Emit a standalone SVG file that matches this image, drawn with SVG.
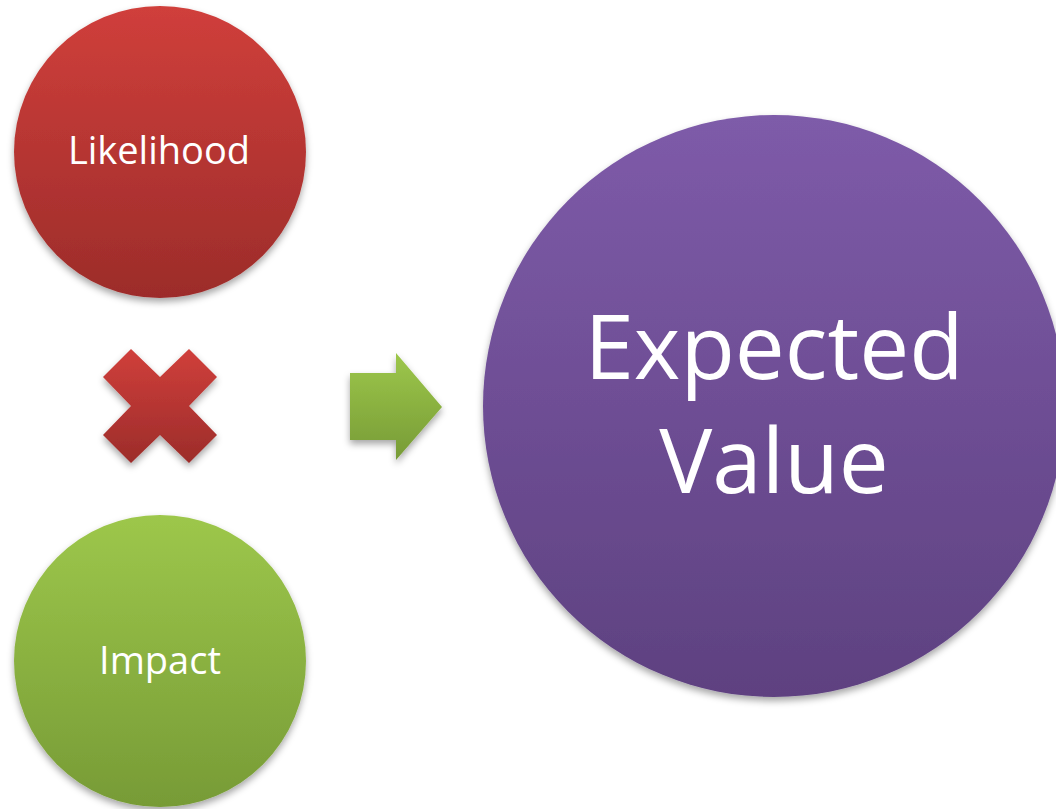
<svg xmlns="http://www.w3.org/2000/svg" width="1056" height="809" viewBox="0 0 1056 809">
  <defs>
    <linearGradient id="gRed" x1="0" y1="0" x2="0" y2="1">
      <stop offset="0" stop-color="#d03f3b"/>
      <stop offset="1" stop-color="#9c2c2a"/>
    </linearGradient>
    <linearGradient id="gGreen" x1="0" y1="0" x2="0" y2="1">
      <stop offset="0" stop-color="#9dc74b"/>
      <stop offset="1" stop-color="#779b36"/>
    </linearGradient>
    <linearGradient id="gPurple" x1="0" y1="0" x2="0" y2="1">
      <stop offset="0" stop-color="#7e5ba9"/>
      <stop offset="1" stop-color="#5e4180"/>
    </linearGradient>
    <filter id="shadow" x="-20%" y="-20%" width="140%" height="150%">
      <feDropShadow dx="0" dy="4" stdDeviation="3.5" flood-color="#000" flood-opacity="0.35"/>
    </filter>
    <style>
      .lbl { font-family: "Open Sans", "Noto Sans", "DejaVu Sans", sans-serif; fill: #ffffff; text-anchor: middle; }
    </style>
  </defs>
  <rect width="1056" height="809" fill="#ffffff"/>

  <g id="likelihood">
    <circle cx="160" cy="152" r="146" fill="url(#gRed)" filter="url(#shadow)"/>
    <text class="lbl" x="159" y="164" font-size="38">Likelihood</text>
  </g>

  <g id="impact">
    <circle cx="160" cy="661" r="146" fill="url(#gGreen)" filter="url(#shadow)"/>
    <text class="lbl" x="160" y="674" font-size="38">Impact</text>
  </g>

  <g id="expected-value">
    <circle cx="774" cy="406" r="291" fill="url(#gPurple)" filter="url(#shadow)"/>
    <text class="lbl" x="774" y="379" font-size="89">Expected</text>
    <text class="lbl" x="774" y="493" font-size="89">Value</text>
  </g>

  <g id="connectors">
    <polygon id="times" points="103,377 131,349 160,377 189,349 217,377 189,406 217,435 189,463 160,435 131,463 103,435 131,406" fill="url(#gRed)" filter="url(#shadow)"/>
    <polygon id="arrow" points="350,373 396,373 396,353 442,407 396,460 396,440 350,440" fill="url(#gGreen)" filter="url(#shadow)"/>
  </g>
</svg>
